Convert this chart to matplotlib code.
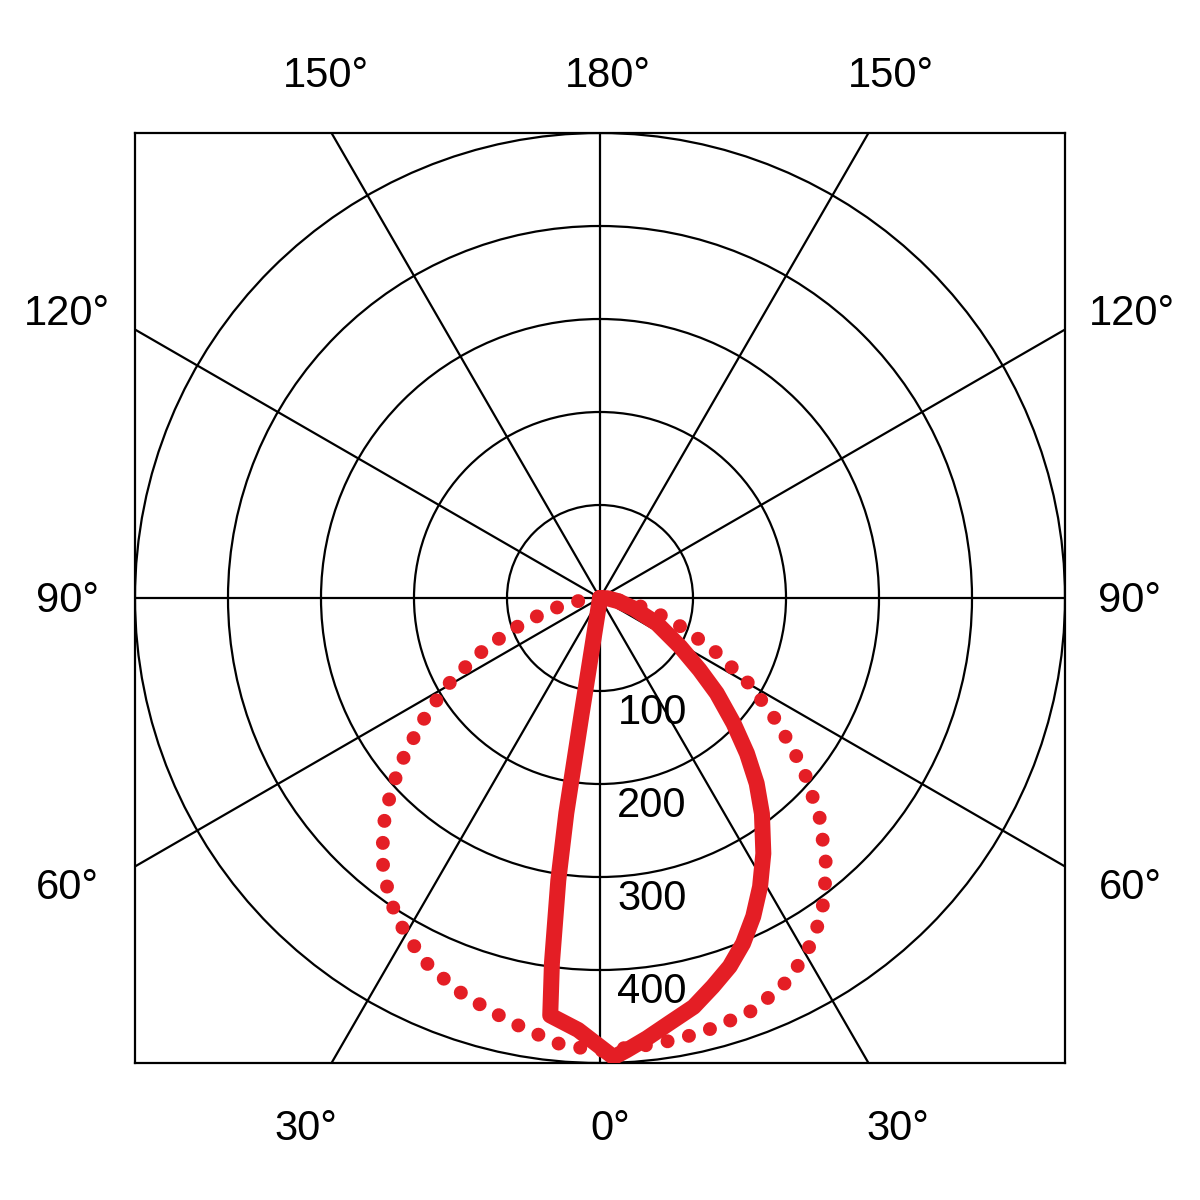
import numpy as np
import matplotlib
matplotlib.use("Agg")
import matplotlib.pyplot as plt
from matplotlib.patches import Circle

plt.rcParams["font.family"] = ["Liberation Sans", "DejaVu Sans"]

RED = "#e41e25"

# intensity rings and their labels
rings = [100, 200, 300, 400, 500]
ring_labels = ["100", "200", "300", "400"]

# radial spokes every 30 degrees (0 = straight down)
spokes = [0, 30, 60, 90, 120, 150, 180, 210, 240, 270, 300, 330]

# angle labels around the frame: text, x px, baseline y px
angle_labels = ["150°", "180°", "150°",
                "120°", "90°", "60°",
                "120°", "90°", "60°",
                "30°", "0°", "30°"]
label_x = [326, 608, 891, 67, 67, 67, 1132, 1130, 1130, 306, 610, 898]
label_y = [87, 87, 87, 325, 612, 899, 325, 612, 899, 1140, 1140, 1140]

# dotted curve (angle from nadir, negative = left side)
dot_angles = [-90, -85, -80, -75, -70, -65, -60, -55, -50, -45, -40, -35,
              -30, -25, -20, -15, -10, -5, 0, 5, 10, 15, 20, 25, 30, 35,
              40, 45, 50, 55, 60, 65, 70, 75, 80, 85, 90]
dot_values = [0, 15, 38, 64, 104, 146, 192, 235, 282, 327, 365, 395,
              418, 436, 449, 459, 470, 482, 487, 484, 482, 478, 473, 462, 443, 416,
              379, 334, 285, 233, 186, 137, 97, 64, 38, 15, 0]

# solid curve
solid_angles = [-90, -9.0, -8.9, -8.4, -7.5, -6.8, -2.9, 1.7, 3.4, 6.1, 9.3,
                12.9, 16.2, 19.4, 22.5, 25.7, 29.0, 32.6, 36.9, 40.2, 43.4,
                46.8, 50.8, 54.2, 58.7, 65.9, 72.8, 80.0, 88.0, 90]
solid_values = [0, 126, 234, 307, 396, 452, 465, 494, 487, 476, 463,
                451, 435, 420, 402, 380, 355, 326, 290, 261, 230,
                197, 162, 132, 101, 67, 38, 20, 8, 0]


def to_xy(angles, values):
    a = np.radians(angles)
    v = np.asarray(values, dtype=float)
    return v * np.sin(a), -v * np.cos(a)


fig = plt.figure(figsize=(12, 12), dpi=100)
ax = fig.add_axes([135 / 1200, 137 / 1200, 930 / 1200, 930 / 1200])
ax.set_xlim(-500, 500)
ax.set_ylim(-500, 500)
ax.set_aspect("equal")
ax.set_xticks([])
ax.set_yticks([])
for s in ax.spines.values():
    s.set_linewidth(1.6)
    s.set_color("black")

# grid
for r in rings:
    ax.add_patch(Circle((0, 0), r, fill=False, lw=1.6, ec="black", zorder=1))
for a in spokes:
    sx, sy = to_xy([a, a], [0, 1000])
    ax.plot(sx, sy, color="black", lw=1.6, zorder=1)

for r, t in zip(rings, ring_labels):
    ax.text(56, -(r + 36), t, ha="center", va="baseline", fontsize=30, zorder=2)

# curves
dx, dy = to_xy(dot_angles, dot_values)
ax.plot(dx, dy, color=RED, lw=10, linestyle=(0, (0.01, 1.58)),
        dash_capstyle="round", zorder=3)
sx, sy = to_xy(solid_angles, solid_values)
ax.plot(sx, sy, color=RED, lw=11.5, solid_joinstyle="round",
        solid_capstyle="round", zorder=4)

for t, x, y in zip(angle_labels, label_x, label_y):
    fig.text(x / 1200, 1 - y / 1200, t, ha="center", va="baseline", fontsize=30)

fig.savefig("out.png", dpi=100, facecolor="white")
